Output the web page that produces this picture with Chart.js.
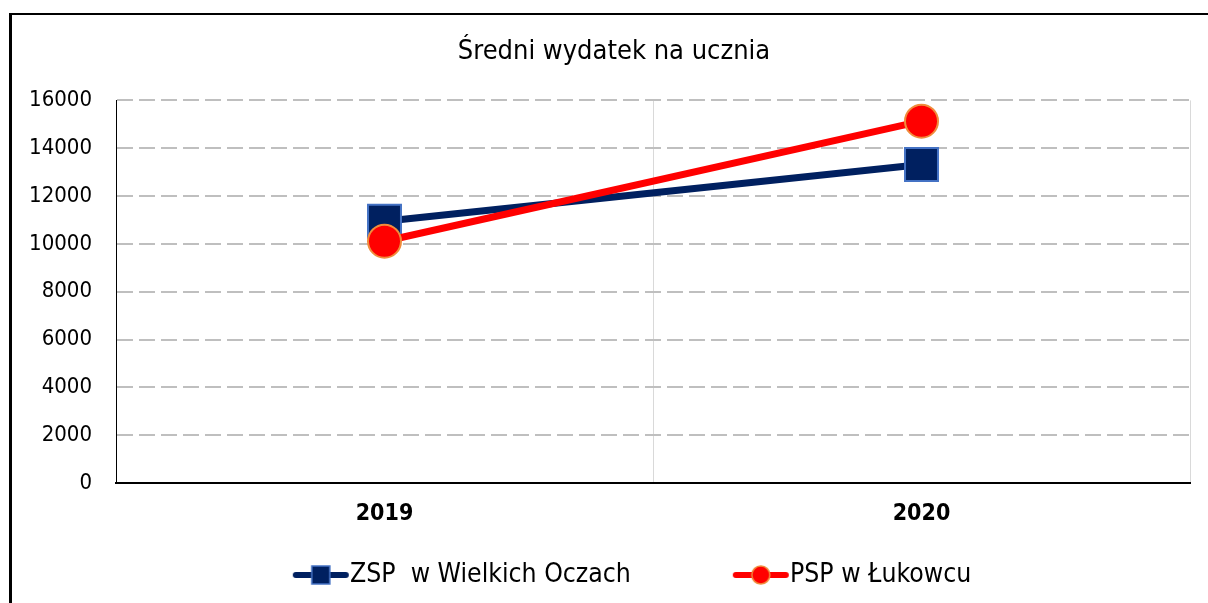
<!DOCTYPE html>
<html>
<head>
<meta charset="utf-8">
<script src="https://cdn.jsdelivr.net/npm/chart.js@4/dist/chart.umd.min.js"></script>
<style>
html,body{margin:0;padding:0;background:#fff;overflow:hidden}
#wrap{position:relative;width:1208px;height:603px;overflow:hidden}
#frame{position:absolute;left:9px;top:13px;width:1400px;height:800px;border-left:3px solid #000;border-top:2px solid #000;pointer-events:none}
</style>
</head>
<body>
<div id="wrap">
<canvas id="c" width="1208" height="603"></canvas>
<div id="frame"></div>
</div>
<script>
const categories = ['2019', '2020'];
const seriesNames = ['ZSP  w Wielkich Oczach', 'PSP w Łukowcu'];
const zspValues = [10950, 13320];
const pspValues = [10110, 15130];
const yTicks = [0, 2000, 4000, 6000, 8000, 10000, 12000, 14000, 16000];
const chartTitle = 'Średni wydatek na ucznia';

function hasFont(name) {
  const c = document.createElement('canvas').getContext('2d');
  c.font = '40px monospace';
  const a = c.measureText('abcdefghijklmnopWM').width;
  c.font = `40px '${name}', monospace`;
  return c.measureText('abcdefghijklmnopWM').width !== a;
}
const FONT = hasFont('DejaVu Sans Condensed') ? "'DejaVu Sans Condensed', 'DejaVu Sans', sans-serif" : "'DejaVu Sans', sans-serif";

const NAVY = '#002060', SQ_BORDER = '#4472C4', RED = '#FF0000', CIRC_BORDER = '#F08C3C';

// layout constants (pixels)
const PAD_L = 20, PAD_R = 0, PLOT_L = 116, PLOT_R = 1190, PLOT_B = 483;

// legend font sized so the first label spans ~281px like the reference
const mctx = document.createElement('canvas').getContext('2d');
let legendSize = 26;
mctx.font = `${legendSize}px ${FONT}`;
legendSize = Math.max(18, Math.min(30, 26 * 281 / mctx.measureText(seriesNames[0]).width));
mctx.font = `${legendSize}px ${FONT}`;
const T1 = mctx.measureText(seriesNames[0]).width;
const T2 = mctx.measureText(seriesNames[1]).width;
const half = legendSize / 2;
const legendCenter = (PAD_L + 1208 - PAD_R) / 2, text1X = 350, text2X = 790, textMidY = 575;
const gap = Math.min(80, Math.max(0, 2 * (legendCenter - text1X) - T1 - T2));
const B = Math.max(10, (text2X - text1X) - T1 - gap - half);
const legendTop = textMidY - gap - half;
const legendBottomPad = Math.max(0, 603 - (legendTop + legendSize + gap + 10));
const xAxisHeight = Math.max(0, legendTop - PLOT_B);

function legendGlyph(kind) {
  const w = Math.round(B + 2 * half), h = 24;
  const cv = document.createElement('canvas');
  cv.width = w; cv.height = h;
  const g = cv.getContext('2d');
  const x0 = w - 57, x1 = w - 1, cy = h / 2, cx = (x0 + x1) / 2;
  g.lineCap = 'round';
  g.lineWidth = 6;
  g.strokeStyle = kind === 'rect' ? NAVY : RED;
  g.beginPath(); g.moveTo(x0 + 3, cy); g.lineTo(x1 - 3, cy); g.stroke();
  g.lineWidth = 1.5;
  if (kind === 'rect') {
    g.fillStyle = NAVY; g.strokeStyle = SQ_BORDER;
    g.fillRect(cx - 9, cy - 9, 18, 18); g.strokeRect(cx - 9, cy - 9, 18, 18);
  } else {
    g.fillStyle = RED; g.strokeStyle = CIRC_BORDER;
    g.beginPath(); g.arc(cx, cy, 9, 0, Math.PI * 2); g.fill(); g.stroke();
  }
  return cv;
}
const glyphs = [legendGlyph('rect'), legendGlyph('circle')];

new Chart(document.getElementById('c'), {
  type: 'line',
  data: {
    labels: categories,
    datasets: [
      {
        label: seriesNames[0], data: zspValues, order: 1,
        borderColor: NAVY, borderWidth: 7, backgroundColor: NAVY,
        pointStyle: 'rect', pointRadius: 23.3, pointHoverRadius: 23.3,
        pointBackgroundColor: NAVY, pointBorderColor: SQ_BORDER, pointBorderWidth: 2,
        tension: 0, clip: false
      },
      {
        label: seriesNames[1], data: pspValues, order: 0,
        borderColor: RED, borderWidth: 7, backgroundColor: RED,
        pointStyle: 'circle', pointRadius: 16.5, pointHoverRadius: 16.5,
        pointBackgroundColor: RED, pointBorderColor: CIRC_BORDER, pointBorderWidth: 2,
        tension: 0, clip: false
      }
    ]
  },
  options: {
    responsive: false,
    animation: false,
    devicePixelRatio: 1,
    layout: { autoPadding: false, padding: { left: PAD_L, right: PAD_R, top: 0, bottom: legendBottomPad } },
    plugins: {
      tooltip: { enabled: false },
      title: {
        display: true, text: chartTitle, color: '#000',
        font: { family: FONT, size: 27, weight: 'normal' },
        padding: { top: 36, bottom: 32 }
      },
      legend: {
        display: true, position: 'bottom',
        labels: {
          font: { family: FONT, size: legendSize },
          color: '#000',
          usePointStyle: true,
          pointStyleWidth: B,
          padding: gap,
          generateLabels: (chart) => chart.data.datasets.map((ds, i) => ({
            text: ds.label, datasetIndex: i, pointStyle: glyphs[i],
            fillStyle: ds.borderColor, strokeStyle: ds.borderColor, lineWidth: 0, hidden: false
          }))
        }
      }
    },
    scales: {
      x: {
        type: 'category',
        offset: true,
        grid: { display: true, offset: true, color: '#D9D9D9', lineWidth: 1, drawTicks: false },
        border: { display: true, color: '#000', width: 2 },
        // mirror + negative padding places the labels below the axis without clipping
        ticks: { color: '#000', mirror: true, padding: -45, font: { family: FONT, size: 23, weight: 'bold' } },
        afterFit: (s) => { s.height = xAxisHeight; }
      },
      y: {
        min: 0, max: 16000,
        afterBuildTicks: (s) => { s.ticks = yTicks.map(v => ({ value: v })); },
        grid: { display: true, color: '#BFBFBF', lineWidth: 2, drawTicks: false },
        border: { display: true, color: '#000', width: 1, dash: [16, 6] },
        ticks: { color: '#000', padding: 24, font: { family: FONT, size: 22 }, callback: (v) => String(v) },
        afterFit: (s) => { s.width = PLOT_L - PAD_L; }
      },
      ySpacer: {
        type: 'linear', position: 'right', display: true,
        grid: { display: false }, border: { display: false }, ticks: { display: false },
        afterFit: (s) => { s.width = 1208 - PAD_R - PLOT_R; }
      }
    }
  }
});
</script>
</body>
</html>
